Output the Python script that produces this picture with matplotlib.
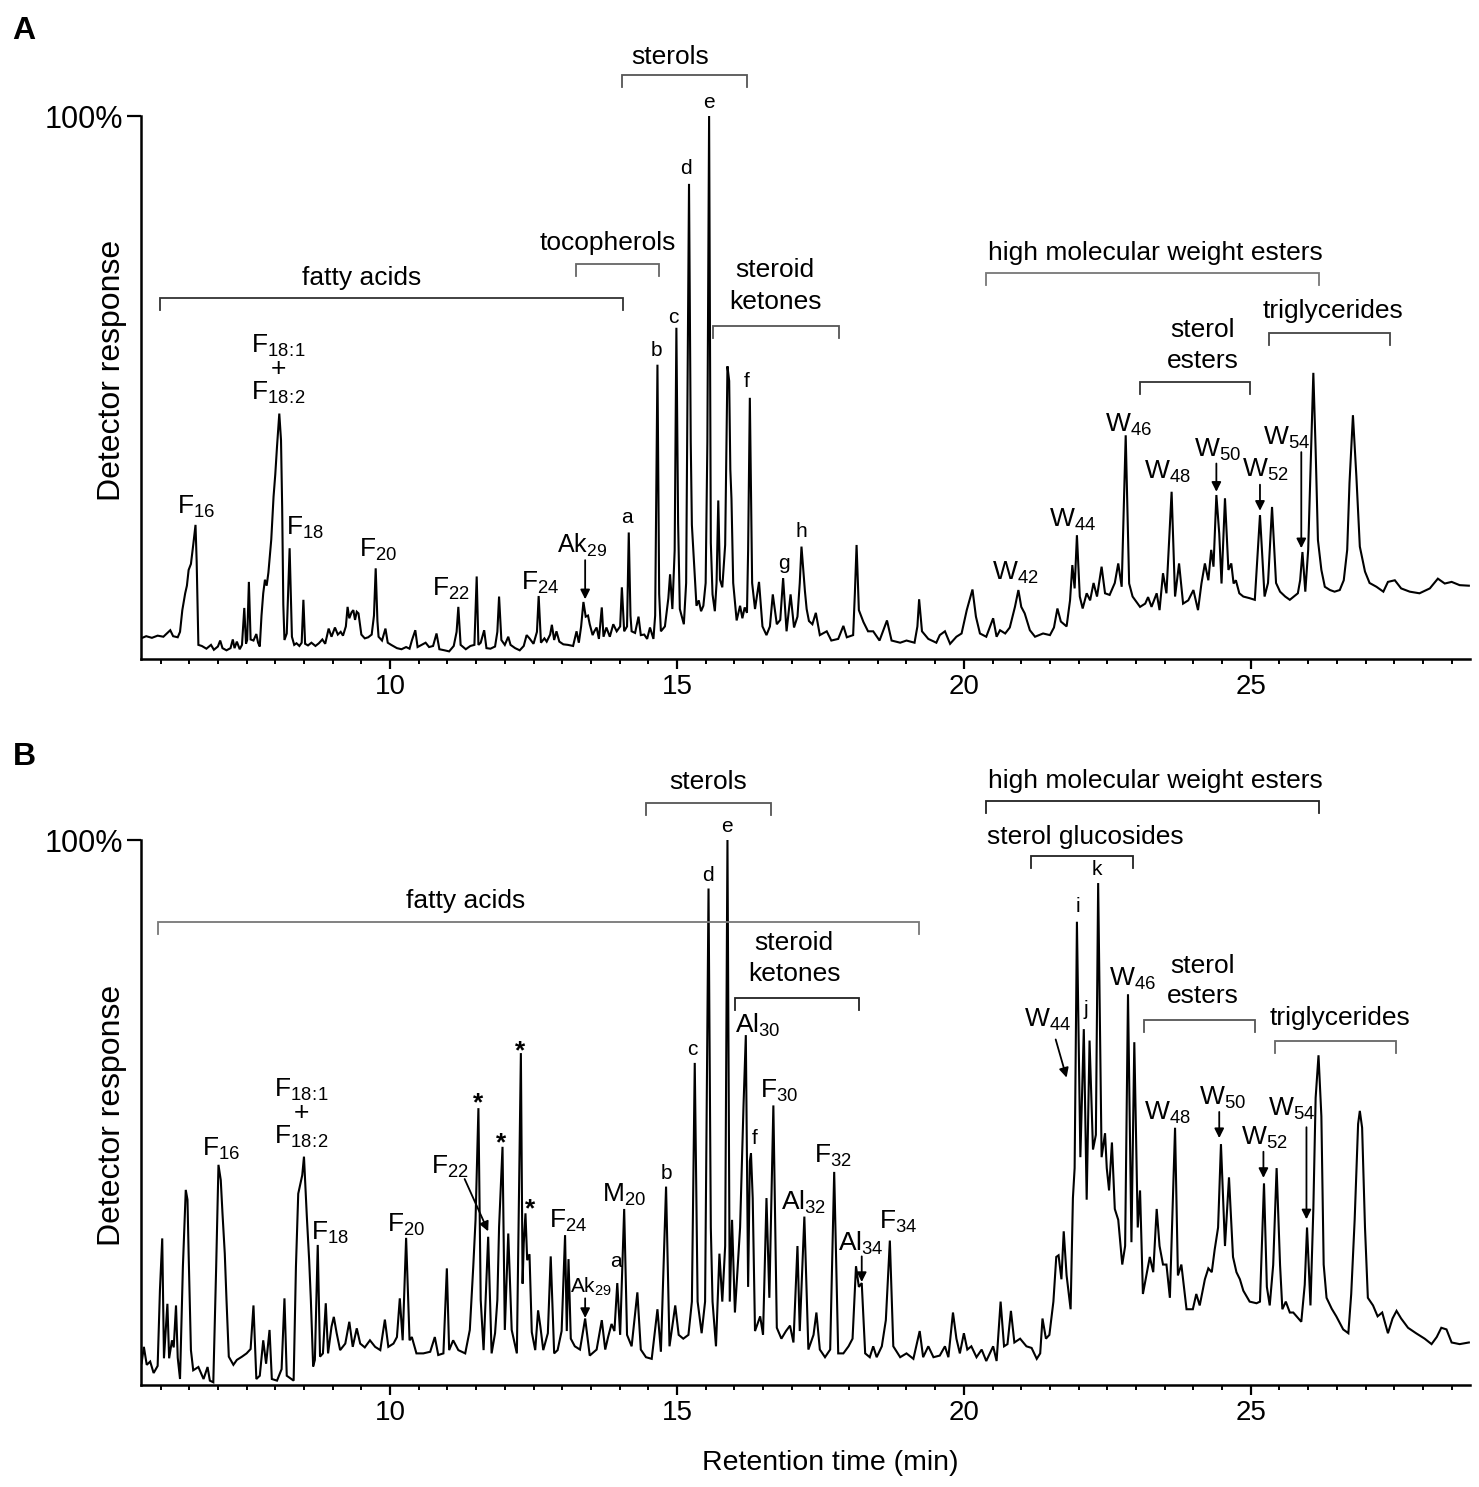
import matplotlib
matplotlib.use("Agg")
import matplotlib.pyplot as plt
from matplotlib.ticker import MultipleLocator

plt.rcParams["font.family"] = ["Liberation Sans", "DejaVu Sans"]
plt.rcParams["mathtext.fontset"] = "custom"
plt.rcParams["mathtext.rm"] = "Liberation Sans"
plt.rcParams["mathtext.it"] = "Liberation Sans:italic"
plt.rcParams["mathtext.bf"] = "Liberation Sans:bold"
plt.rcParams["mathtext.default"] = "regular"

# chromatogram A: retention time (min) / detector response (% of max)
time_a = [
    5.66, 5.75, 5.85, 5.95, 6.05, 6.12, 6.17, 6.22, 6.30, 6.34, 6.38, 6.43, 6.46, 6.49, 6.53,
    6.57, 6.61, 6.63, 6.66, 6.72, 6.80, 6.88, 6.93, 7.00, 7.04, 7.08, 7.15, 7.22, 7.26, 7.29,
    7.33, 7.38, 7.42, 7.46, 7.49, 7.51, 7.54, 7.57, 7.62, 7.67, 7.70, 7.73, 7.76, 7.79, 7.82,
    7.85, 7.88, 7.93, 7.97, 8.00, 8.03, 8.07, 8.10, 8.12, 8.14, 8.16, 8.20, 8.25, 8.29, 8.33,
    8.37, 8.42, 8.46, 8.49, 8.52, 8.57, 8.63, 8.70, 8.76, 8.82, 8.87, 8.93, 8.98, 9.04, 9.09,
    9.14, 9.18, 9.23, 9.26, 9.29, 9.33, 9.36, 9.39, 9.42, 9.45, 9.50, 9.56, 9.62, 9.68, 9.72,
    9.75, 9.78, 9.80, 9.86, 9.92, 9.96, 10.02, 10.12, 10.20, 10.28, 10.34, 10.38, 10.44, 10.48,
    10.55, 10.62, 10.68, 10.75, 10.81, 10.86, 10.95, 11.03, 11.11, 11.16, 11.19, 11.23, 11.32,
    11.40, 11.47, 11.51, 11.54, 11.58, 11.64, 11.68, 11.75, 11.83, 11.87, 11.90, 11.94, 12.00,
    12.06, 12.10, 12.18, 12.26, 12.33, 12.38, 12.43, 12.50, 12.56, 12.59, 12.63, 12.69, 12.73,
    12.79, 12.82, 12.86, 12.90, 12.95, 13.02, 13.10, 13.19, 13.25, 13.29, 13.33, 13.37, 13.41,
    13.45, 13.48, 13.53, 13.56, 13.60, 13.64, 13.69, 13.72, 13.77, 13.83, 13.89, 13.95, 14.01,
    14.04, 14.08, 14.13, 14.16, 14.19, 14.21, 14.27, 14.33, 14.37, 14.43, 14.48, 14.53, 14.59,
    14.62, 14.66, 14.69, 14.72, 14.79, 14.85, 14.88, 14.92, 14.96, 14.99, 15.02, 15.05, 15.12,
    15.16, 15.21, 15.24, 15.26, 15.30, 15.34, 15.38, 15.42, 15.46, 15.50, 15.53, 15.56, 15.59,
    15.62, 15.66, 15.69, 15.72, 15.75, 15.79, 15.84, 15.88, 15.91, 15.93, 15.95, 15.98, 16.04,
    16.10, 16.14, 16.18, 16.22, 16.24, 16.27, 16.31, 16.36, 16.43, 16.49, 16.56, 16.62, 16.67,
    16.74, 16.80, 16.85, 16.91, 16.98, 17.04, 17.10, 17.14, 17.17, 17.23, 17.26, 17.30, 17.36,
    17.42, 17.49, 17.61, 17.69, 17.81, 17.90, 17.96, 18.07, 18.10, 18.13, 18.17, 18.25, 18.33,
    18.42, 18.53, 18.66, 18.74, 18.89, 19.00, 19.14, 19.19, 19.22, 19.27, 19.38, 19.52, 19.58,
    19.67, 19.76, 19.87, 19.96, 20.05, 20.15, 20.21, 20.28, 20.39, 20.45, 20.51, 20.57, 20.63,
    20.72, 20.80, 20.89, 20.95, 21.00, 21.06, 21.15, 21.24, 21.38, 21.50, 21.57, 21.63, 21.69,
    21.79, 21.85, 21.89, 21.93, 21.97, 22.02, 22.07, 22.14, 22.20, 22.26, 22.32, 22.40, 22.46,
    22.54, 22.63, 22.69, 22.75, 22.82, 22.88, 22.94, 23.07, 23.16, 23.21, 23.27, 23.36, 23.41,
    23.47, 23.53, 23.62, 23.68, 23.75, 23.82, 23.91, 24.00, 24.08, 24.14, 24.20, 24.26, 24.31,
    24.35, 24.40, 24.45, 24.49, 24.55, 24.61, 24.66, 24.70, 24.74, 24.80, 24.87, 24.98, 25.07,
    25.16, 25.24, 25.30, 25.37, 25.44, 25.51, 25.60, 25.68, 25.82, 25.86, 25.90, 25.95, 26.00,
    26.05, 26.09, 26.13, 26.17, 26.23, 26.29, 26.38, 26.46, 26.55, 26.62, 26.68, 26.72, 26.78,
    26.84, 26.90, 26.99, 27.07, 27.19, 27.31, 27.39, 27.51, 27.62, 27.77, 27.94, 28.12, 28.26,
    28.38, 28.50, 28.64, 28.80,
]
resp_a = [
    3.8, 4.2, 3.9, 4.3, 4.1, 4.8, 5.3, 4.2, 4.0, 5.0, 9.0, 12.1, 13.5, 16.4, 17.5,
    21.0, 24.7, 18.0, 2.6, 2.4, 1.9, 2.6, 1.7, 2.3, 3.4, 2.0, 1.6, 2.0, 3.6, 2.0,
    3.2, 1.8, 2.6, 9.4, 2.8, 3.5, 14.2, 3.6, 3.4, 4.6, 3.0, 2.3, 8.0, 12.1, 14.6,
    13.5, 15.9, 22.0, 29.9, 34.0, 39.1, 45.2, 40.3, 28.0, 10.0, 3.5, 4.7, 20.4, 4.1, 2.6,
    2.9, 2.4, 3.0, 10.9, 2.8, 2.5, 3.0, 2.4, 2.9, 3.6, 2.8, 5.6, 4.1, 5.8, 4.5,
    5.0, 4.3, 6.0, 9.6, 7.5, 8.6, 9.0, 7.2, 8.7, 8.4, 4.5, 3.8, 4.0, 4.5, 8.0,
    16.7, 7.0, 4.1, 3.4, 5.6, 3.0, 2.6, 2.0, 1.8, 2.2, 1.9, 3.4, 5.3, 2.2,
    2.6, 3.0, 2.2, 2.4, 4.7, 1.8, 1.6, 1.4, 2.4, 5.0, 9.6, 2.6, 1.8,
    2.4, 2.6, 15.2, 2.6, 3.0, 5.3, 2.0, 1.9, 2.3, 5.0, 11.5, 3.5, 2.6,
    4.1, 2.6, 2.0, 1.6, 2.4, 4.4, 3.8, 2.8, 5.0, 11.6, 3.0, 3.8, 3.2,
    4.5, 6.3, 3.5, 5.1, 3.2, 2.7, 2.6, 2.4, 5.1, 3.0, 6.0, 10.5, 7.8,
    8.0, 6.4, 4.4, 5.1, 5.8, 3.7, 9.5, 4.1, 5.8, 4.1, 6.4, 5.1, 6.0,
    13.2, 5.1, 6.0, 23.3, 8.0, 5.1, 4.8, 7.8, 4.4, 4.5, 3.7, 5.8, 3.7,
    8.0, 54.2, 12.0, 5.1, 6.0, 11.2, 15.6, 9.2, 20.0, 61.0, 25.0, 9.2, 6.4,
    14.0, 87.5, 40.0, 24.7, 17.3, 9.8, 10.8, 8.8, 9.8, 14.0, 40.0, 100.0, 21.4,
    11.9, 8.8, 14.0, 29.2, 14.6, 13.2, 21.0, 53.9, 51.2, 34.9, 29.5, 14.0, 7.1,
    9.8, 7.5, 9.5, 8.5, 20.0, 48.1, 14.0, 9.2, 14.2, 6.0, 4.4, 6.0, 11.9,
    6.4, 7.2, 14.9, 5.1, 11.9, 5.8, 7.8, 14.0, 20.7, 12.5, 9.2, 7.0, 6.4,
    8.5, 4.4, 5.1, 3.4, 3.7, 6.1, 4.0, 4.4, 12.0, 21.0, 9.0, 6.8, 5.1,
    5.1, 3.4, 7.1, 3.4, 3.0, 3.4, 3.0, 6.0, 11.0, 5.1, 3.7, 3.0, 4.4,
    5.1, 2.8, 4.1, 4.7, 9.0, 12.8, 7.8, 4.7, 4.1, 5.8, 7.5, 4.1, 5.3,
    4.7, 5.8, 9.6, 12.7, 9.6, 8.4, 5.3, 4.1, 4.7, 4.4, 5.8, 9.3, 6.9,
    6.0, 10.8, 17.3, 13.0, 22.8, 11.5, 9.3, 12.1, 10.8, 14.0, 11.5, 17.0, 12.1,
    11.8, 14.0, 17.6, 13.3, 41.2, 13.9, 11.5, 9.6, 10.2, 11.4, 9.6, 12.1, 9.0,
    15.8, 12.1, 30.8, 11.5, 17.6, 10.2, 10.8, 12.7, 9.0, 13.9, 17.6, 14.5, 20.1,
    17.0, 30.2, 23.1, 13.9, 29.6, 16.4, 17.6, 13.9, 14.5, 12.1, 11.5, 11.2, 10.9,
    26.5, 11.5, 14.0, 28.0, 14.0, 12.4, 11.5, 10.9, 12.1, 14.5, 19.7, 12.4, 20.1,
    38.5, 52.7, 38.5, 21.9, 16.4, 13.3, 12.7, 12.4, 12.7, 14.5, 20.1, 32.4, 44.9,
    33.6, 20.7, 16.1, 14.0, 13.3, 12.4, 14.2, 14.5, 13.0, 12.4, 12.1, 13.0, 14.8,
    13.9, 14.2, 13.6, 13.5,
]

# chromatogram B
time_b = [
    5.67, 5.71, 5.76, 5.82, 5.88, 5.95, 5.99, 6.03, 6.06, 6.12, 6.15, 6.20, 6.23, 6.27, 6.30,
    6.34, 6.39, 6.44, 6.47, 6.49, 6.53, 6.57, 6.66, 6.75, 6.82, 6.86, 6.92, 6.97, 7.01, 7.05,
    7.08, 7.12, 7.15, 7.19, 7.27, 7.33, 7.42, 7.50, 7.57, 7.62, 7.67, 7.73, 7.79, 7.84, 7.90,
    7.94, 8.03, 8.11, 8.16, 8.20, 8.32, 8.36, 8.40, 8.44, 8.47, 8.50, 8.55, 8.59, 8.62, 8.66,
    8.69, 8.74, 8.78, 8.83, 8.88, 8.92, 8.98, 9.02, 9.07, 9.13, 9.22, 9.29, 9.35, 9.42, 9.48,
    9.56, 9.65, 9.74, 9.83, 9.91, 9.97, 10.06, 10.12, 10.17, 10.22, 10.28, 10.34, 10.38, 10.46,
    10.58, 10.70, 10.78, 10.84, 10.93, 10.99, 11.03, 11.10, 11.19, 11.31, 11.39, 11.45, 11.49,
    11.54, 11.58, 11.63, 11.71, 11.77, 11.83, 11.87, 11.90, 11.96, 12.00, 12.06, 12.12, 12.21,
    12.24, 12.28, 12.31, 12.33, 12.36, 12.39, 12.43, 12.47, 12.53, 12.58, 12.62, 12.67, 12.75,
    12.80, 12.86, 12.92, 12.99, 13.05, 13.08, 13.11, 13.15, 13.22, 13.31, 13.40, 13.48, 13.60,
    13.69, 13.75, 13.80, 13.86, 13.91, 13.96, 14.01, 14.08, 14.13, 14.21, 14.31, 14.37, 14.46,
    14.56, 14.66, 14.72, 14.81, 14.87, 14.97, 15.03, 15.11, 15.20, 15.26, 15.31, 15.36, 15.43,
    15.49, 15.55, 15.59, 15.62, 15.68, 15.74, 15.79, 15.84, 15.88, 15.92, 15.96, 16.01, 16.10,
    16.16, 16.20, 16.24, 16.27, 16.29, 16.32, 16.36, 16.45, 16.50, 16.56, 16.61, 16.68, 16.74,
    16.82, 16.90, 16.97, 17.03, 17.10, 17.14, 17.22, 17.29, 17.38, 17.43, 17.49, 17.58, 17.67,
    17.74, 17.81, 17.90, 17.99, 18.06, 18.12, 18.17, 18.22, 18.28, 18.36, 18.42, 18.48, 18.57,
    18.64, 18.71, 18.77, 18.89, 19.00, 19.12, 19.23, 19.29, 19.38, 19.47, 19.58, 19.67, 19.73,
    19.81, 19.87, 19.93, 20.00, 20.06, 20.13, 20.22, 20.31, 20.39, 20.51, 20.57, 20.64, 20.70,
    20.76, 20.82, 20.88, 20.98, 21.09, 21.18, 21.27, 21.33, 21.37, 21.43, 21.49, 21.56, 21.61,
    21.65, 21.70, 21.74, 21.79, 21.86, 21.90, 21.93, 21.97, 22.01, 22.03, 22.09, 22.14, 22.19,
    22.25, 22.30, 22.34, 22.40, 22.46, 22.49, 22.53, 22.58, 22.63, 22.69, 22.76, 22.81, 22.86,
    22.92, 22.97, 23.03, 23.07, 23.12, 23.18, 23.24, 23.30, 23.36, 23.41, 23.47, 23.53, 23.59,
    23.68, 23.73, 23.79, 23.88, 23.99, 24.05, 24.11, 24.20, 24.26, 24.32, 24.37, 24.43, 24.48,
    24.55, 24.62, 24.69, 24.75, 24.81, 24.87, 24.98, 25.10, 25.16, 25.23, 25.28, 25.33, 25.39,
    25.45, 25.51, 25.55, 25.61, 25.68, 25.74, 25.88, 25.94, 25.98, 26.04, 26.09, 26.13, 26.18,
    26.23, 26.27, 26.32, 26.41, 26.49, 26.61, 26.70, 26.75, 26.81, 26.87, 26.90, 26.94, 26.99,
    27.04, 27.13, 27.21, 27.29, 27.39, 27.47, 27.54, 27.62, 27.74, 27.88, 28.03, 28.15, 28.24,
    28.32, 28.41, 28.50, 28.64, 28.80,
]
resp_b = [
    4.0, 7.0, 3.7, 4.3, 2.2, 3.5, 17.4, 26.9, 4.9, 14.9, 4.9, 8.2, 6.9, 14.6, 5.0,
    1.1, 21.7, 35.8, 34.0, 24.1, 6.4, 2.7, 3.3, 1.1, 3.3, 0.8, 0.5, 21.7, 40.4, 37.6,
    31.5, 24.1, 15.6, 5.2, 3.7, 4.6, 5.2, 5.8, 6.6, 14.6, 1.1, 1.7, 8.2, 3.9, 10.1,
    1.1, 0.8, 2.9, 15.9, 1.7, 0.8, 21.7, 35.1, 37.0, 38.5, 41.9, 30.9, 23.0, 15.6, 3.4,
    4.6, 25.7, 5.2, 5.8, 15.0, 5.8, 10.7, 12.5, 9.5, 6.4, 7.6, 11.6, 7.0, 10.4, 7.6,
    6.9, 8.2, 7.0, 6.4, 12.0, 7.0, 7.6, 8.8, 15.9, 8.2, 27.0, 8.2, 8.8, 5.8,
    5.8, 6.1, 8.8, 5.5, 5.8, 21.4, 6.4, 8.2, 6.4, 5.8, 10.1, 21.7, 30.3,
    50.8, 15.6, 6.4, 27.2, 5.8, 9.5, 15.6, 29.0, 43.7, 10.1, 27.8, 10.1, 5.8,
    29.0, 60.9, 18.6, 26.0, 31.5, 22.9, 24.0, 9.7, 6.4, 13.7, 10.7, 6.4, 9.5,
    23.6, 5.8, 6.4, 9.9, 27.5, 9.9, 23.1, 8.5, 7.1, 6.5, 12.2, 5.4, 6.5,
    11.9, 6.5, 8.8, 11.2, 9.9, 18.7, 9.2, 32.3, 9.2, 7.1, 17.0, 6.5, 5.1,
    4.8, 13.9, 6.1, 36.4, 7.1, 14.6, 9.2, 8.5, 9.2, 15.3, 59.1, 15.3, 9.5,
    15.3, 91.1, 28.9, 15.3, 7.1, 24.1, 15.3, 25.5, 100.0, 15.3, 30.3, 13.3, 28.9,
    51.3, 64.2, 18.0, 41.1, 42.5, 34.3, 9.9, 12.6, 9.2, 34.3, 16.0, 51.3, 10.5,
    8.5, 9.9, 10.9, 7.8, 25.5, 9.9, 30.9, 6.5, 9.2, 13.3, 6.5, 5.1, 6.5,
    39.1, 5.8, 5.8, 7.1, 8.5, 21.8, 18.0, 18.7, 5.8, 5.1, 7.1, 5.1, 7.1,
    11.9, 26.5, 7.1, 5.1, 5.8, 4.8, 9.9, 5.1, 7.1, 5.1, 5.4, 7.1, 5.1,
    13.3, 8.5, 5.8, 9.5, 6.5, 7.1, 5.1, 6.5, 4.4, 7.1, 4.4, 15.3, 7.1,
    7.5, 13.6, 7.8, 8.5, 7.1, 6.8, 4.8, 5.8, 12.2, 8.5, 9.2, 15.3, 23.5,
    23.8, 19.4, 28.2, 20.1, 13.9, 34.3, 39.8, 85.0, 56.0, 41.8, 65.3, 34.0, 63.2,
    43.2, 45.9, 92.1, 41.8, 46.2, 39.8, 35.7, 44.5, 32.3, 30.3, 22.1, 25.5, 71.7,
    26.2, 62.9, 28.9, 35.7, 16.7, 20.1, 23.5, 20.7, 32.3, 25.5, 22.1, 22.1, 16.0,
    47.2, 20.1, 22.1, 13.9, 13.9, 16.7, 14.6, 19.4, 21.4, 20.7, 24.8, 28.9, 44.2,
    25.5, 38.1, 23.5, 20.7, 19.4, 17.3, 15.3, 15.0, 15.3, 37.0, 18.0, 14.6, 22.0,
    39.8, 22.0, 13.9, 15.3, 13.3, 13.3, 11.6, 18.4, 28.9, 14.6, 32.3, 52.7, 60.5,
    49.3, 22.1, 16.0, 14.0, 12.6, 10.2, 9.5, 16.7, 30.3, 47.9, 50.3, 47.2, 28.9,
    16.0, 14.6, 12.6, 13.3, 9.5, 12.2, 13.6, 12.2, 10.5, 9.5, 8.5, 7.5, 8.8,
    10.5, 10.2, 7.8, 7.5, 7.8,
]

x_major = [10, 15, 20, 25]
x_range = (5.66, 28.82)

W, H = 1479, 1487


def setup_axes(ax, times, resp):
    ax.plot(times, resp, color="black", lw=1.5, solid_joinstyle="miter")
    ax.set_xlim(*x_range)
    ax.set_ylim(0, 100)
    for side in ("top", "right"):
        ax.spines[side].set_visible(False)
    for side in ("left", "bottom"):
        ax.spines[side].set_linewidth(1.8)
    ax.set_xticks(x_major)
    ax.xaxis.set_minor_locator(MultipleLocator(0.5))
    ax.tick_params(axis="x", which="major", length=7.5, width=1.6, labelsize=20, pad=3)
    ax.tick_params(axis="x", which="minor", length=3.5, width=1.4)
    ax.set_yticks([100])
    ax.set_yticklabels(["100%"])
    ax.tick_params(axis="y", length=10, width=1.6, labelsize=22, pad=3)


def bracket(ax, x0, x1, y, drop=2.2, color="#555555"):
    ax.plot([x0, x0, x1, x1], [y - drop, y, y, y - drop], color=color, lw=1.3,
            clip_on=False, solid_joinstyle="miter")


def label(ax, t, y, s, size=19, **kw):
    ax.text(t, y, s, ha="center", va="center", fontsize=size, clip_on=False, **kw)


def arrow(ax, t0, y0, t1, y1):
    ax.annotate("", xy=(t1, y1), xytext=(t0, y0), annotation_clip=False,
                arrowprops=dict(arrowstyle="-|>", color="black", lw=1.3,
                                mutation_scale=14, shrinkA=0, shrinkB=0))


fig = plt.figure(figsize=(W / 100, H / 100), dpi=100)
left = 141 / W
width = 1470 / W - left
ax_a = fig.add_axes([left, 1 - 659 / H, width, (659 - 116) / H])
ax_b = fig.add_axes([left, 1 - 1385 / H, width, (1385 - 840) / H])

F18_STACK = "F$_{18\\!:\\!1}$\n+\nF$_{18\\!:\\!2}$"

# ---- panel A
setup_axes(ax_a, time_a, resp_a)
ax_a.text(-0.022, 0.532, "Detector response", transform=ax_a.transAxes, rotation=90,
          ha="center", va="center", fontsize=23)

label(ax_a, 9.51, 70.2, "fatty acids")
bracket(ax_a, 5.99, 14.06, 66.5, color="#333333")
label(ax_a, 13.80, 76.6, "tocopherols")
bracket(ax_a, 13.24, 14.69, 72.7, color="#666666")
label(ax_a, 14.88, 110.9, "sterols")
bracket(ax_a, 14.04, 16.22, 107.5)
label(ax_a, 16.71, 71.6, "steroid")
label(ax_a, 16.71, 65.8, "ketones")
bracket(ax_a, 15.62, 17.82, 61.4)
label(ax_a, 23.33, 74.8, "high molecular weight esters")
bracket(ax_a, 20.39, 26.18, 71.0, color="#777777")
label(ax_a, 24.16, 60.5, "sterol")
label(ax_a, 24.16, 54.8, "esters")
bracket(ax_a, 23.07, 24.98, 51.0, color="#333333")
label(ax_a, 26.43, 64.1, "triglycerides")
bracket(ax_a, 25.32, 27.42, 60.1, color="#444444")

label(ax_a, 6.62, 28.0, "F$_{16}$")
label(ax_a, 8.05, 53.4, F18_STACK, linespacing=0.92, multialignment="center")
label(ax_a, 8.52, 24.1, "F$_{18}$")
label(ax_a, 9.79, 20.1, "F$_{20}$")
label(ax_a, 11.06, 12.9, "F$_{22}$")
label(ax_a, 12.61, 14.0, "F$_{24}$")
label(ax_a, 13.34, 21.0, "Ak$_{29}$", size=18)
arrow(ax_a, 13.40, 18.2, 13.40, 11.0)
for t, y, s in [(14.12, 26.0, "a"), (14.65, 56.8, "b"), (14.93, 62.9, "c"),
                (15.16, 90.3, "d"), (15.56, 102.4, "e"), (16.22, 51.1, "f"),
                (16.86, 17.6, "g"), (17.16, 23.4, "h")]:
    label(ax_a, t, y, s, size=15)
label(ax_a, 20.89, 15.8, "W$_{42}$")
label(ax_a, 21.89, 25.7, "W$_{44}$")
label(ax_a, 22.87, 43.2, "W$_{46}$")
label(ax_a, 23.55, 34.4, "W$_{48}$")
label(ax_a, 24.42, 38.5, "W$_{50}$")
arrow(ax_a, 24.40, 36.0, 24.40, 30.8)
label(ax_a, 25.25, 34.8, "W$_{52}$")
arrow(ax_a, 25.16, 32.1, 25.16, 27.3)
label(ax_a, 25.63, 40.7, "W$_{54}$")
arrow(ax_a, 25.88, 38.1, 25.88, 20.4)

# ---- panel B
setup_axes(ax_b, time_b, resp_b)
ax_b.text(-0.022, 0.495, "Detector response", transform=ax_b.transAxes, rotation=90,
          ha="center", va="center", fontsize=23)

label(ax_b, 15.54, 110.6, "sterols")
bracket(ax_b, 14.46, 16.64, 106.8)
label(ax_b, 11.32, 88.8, "fatty acids")
bracket(ax_b, 5.96, 19.21, 85.0, color="#777777")
label(ax_b, 17.04, 81.1, "steroid")
label(ax_b, 17.04, 75.5, "ketones")
bracket(ax_b, 16.02, 18.17, 71.0, color="#222222")
label(ax_b, 23.33, 110.8, "high molecular weight esters")
bracket(ax_b, 20.39, 26.18, 107.2, color="#222222")
label(ax_b, 22.11, 100.6, "sterol glucosides")
bracket(ax_b, 21.17, 22.94, 97.1, color="#222222")
label(ax_b, 24.16, 76.9, "sterol")
label(ax_b, 24.16, 71.3, "esters")
bracket(ax_b, 23.14, 25.07, 67.0, color="#555555")
label(ax_b, 26.55, 67.3, "triglycerides")
bracket(ax_b, 25.42, 27.53, 63.2, color="#666666")

label(ax_b, 7.05, 43.3, "F$_{16}$")
label(ax_b, 8.45, 49.9, F18_STACK, linespacing=0.92, multialignment="center")
label(ax_b, 8.95, 28.0, "F$_{18}$")
label(ax_b, 10.28, 29.3, "F$_{20}$")
label(ax_b, 11.04, 40.0, "F$_{22}$")
arrow(ax_b, 11.30, 37.8, 11.71, 28.2)
for t, y in [(11.53, 53.2), (11.93, 45.9), (12.26, 62.8), (12.44, 33.9)]:
    label(ax_b, t, y - 1.6, "*", size=19, fontweight="bold")
label(ax_b, 13.10, 30.2, "F$_{24}$")
label(ax_b, 13.51, 18.0, "Ak$_{29}$", size=15)
arrow(ax_b, 13.40, 15.9, 13.40, 12.3)
label(ax_b, 14.07, 34.9, "M$_{20}$")
for t, y, s in [(13.93, 22.6, "a"), (14.81, 38.8, "b"), (15.27, 61.6, "c"),
                (15.535, 93.5, "d"), (15.87, 102.5, "e"), (16.36, 45.2, "f"),
                (21.98, 87.8, "i"), (22.12, 68.9, "j"), (22.32, 94.6, "k")]:
    label(ax_b, t, y, s, size=15)
label(ax_b, 16.40, 66.0, "Al$_{30}$")
label(ax_b, 16.78, 54.0, "F$_{30}$")
label(ax_b, 17.20, 33.5, "Al$_{32}$")
label(ax_b, 17.72, 42.0, "F$_{32}$")
label(ax_b, 18.20, 26.0, "Al$_{34}$")
arrow(ax_b, 18.22, 23.6, 18.22, 18.9)
label(ax_b, 18.86, 30.0, "F$_{34}$")
label(ax_b, 21.45, 67.0, "W$_{44}$")
arrow(ax_b, 21.60, 63.4, 21.79, 56.4)
label(ax_b, 22.94, 74.6, "W$_{46}$")
label(ax_b, 23.54, 50.0, "W$_{48}$")
label(ax_b, 24.50, 52.7, "W$_{50}$")
arrow(ax_b, 24.45, 50.1, 24.45, 45.3)
label(ax_b, 25.23, 45.3, "W$_{52}$")
arrow(ax_b, 25.22, 42.8, 25.22, 38.0)
label(ax_b, 25.71, 50.7, "W$_{54}$")
arrow(ax_b, 25.97, 47.3, 25.97, 30.4)

fig.text(830 / W, 1 - 1463 / H, "Retention time (min)", ha="center", va="center",
         fontsize=20.5)
fig.text(24 / W, 1 - 31 / H, "A", ha="center", va="center", fontsize=23,
         fontweight="bold")
fig.text(24 / W, 1 - 757 / H, "B", ha="center", va="center", fontsize=23,
         fontweight="bold")

fig.savefig("out.png", dpi=100)
